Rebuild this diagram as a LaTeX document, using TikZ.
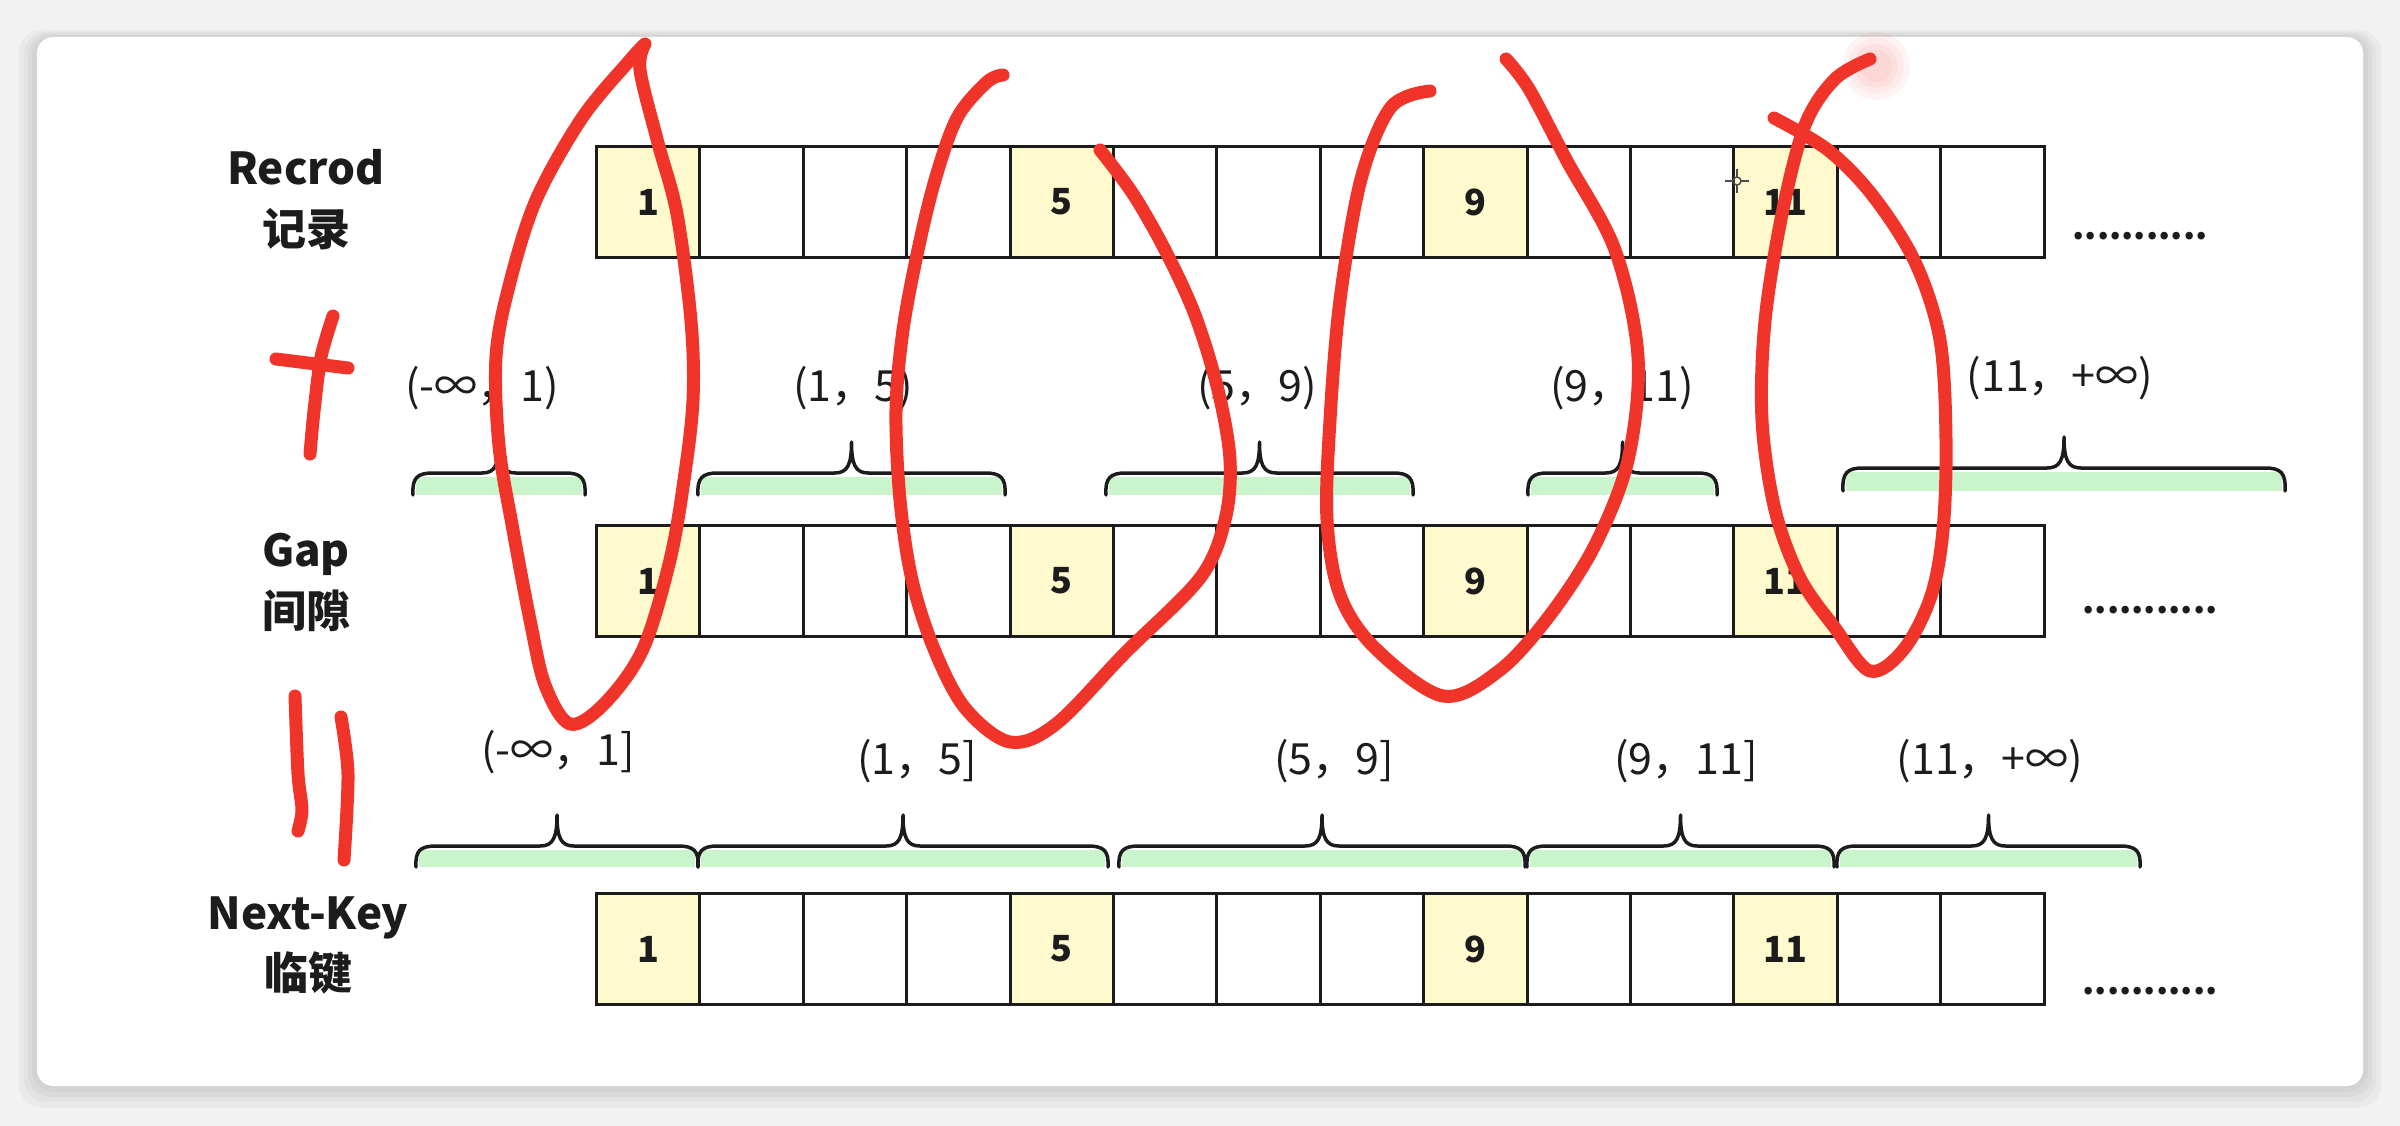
\documentclass[tikz,border=0pt]{standalone}
\usepackage{fontspec}
\setmainfont{Noto Sans CJK SC}
\definecolor{bgray}{RGB}{242,242,242}
\definecolor{cellY}{RGB}{255,250,205}
\definecolor{braceG}{RGB}{202,245,204}
\definecolor{ink}{RGB}{28,28,28}
\definecolor{penred}{RGB}{240,52,42}
\newcommand\curlybr[5]{% a, b, y ends, y bar, y tip
  \fill[braceG] ({#1+3},{#4+4}) rectangle ({#2-3},{#3});
  \draw[bracestyle] (#1,#3) .. controls ({#1-1},{#4+5}) and ({#1+4},#4) .. ({#1+20},#4)
    -- ({(#1+#2)/2-17},#4) .. controls ({(#1+#2)/2-4},#4) and ({(#1+#2)/2},{#4-8}) .. ({(#1+#2)/2},#5)
    .. controls ({(#1+#2)/2},{#4-8}) and ({(#1+#2)/2+4},#4) .. ({(#1+#2)/2+17},#4)
    -- ({#2-20},#4) .. controls ({#2-4},#4) and ({#2+1},{#4+5}) .. (#2,#3);
}
\begin{document}
\begin{tikzpicture}[x=1pt,y=-1pt,
  cellbox/.style={draw=ink,line width=3pt,minimum width=103.4pt,minimum height=111pt,inner sep=0pt,anchor=north west,font=\fontsize{36}{42}\selectfont\bfseries,text=ink},
  rowlbl/.style={font=\fontsize{44}{52}\selectfont\bfseries,text=ink,inner sep=0pt},
  ivl/.style={font=\fontsize{43}{50}\selectfont,text=ink,inner sep=0pt},
  dotsl/.style={font=\fontsize{35}{42}\selectfont\bfseries,text=ink,inner sep=0pt,anchor=base},
  bracestyle/.style={draw=ink,line width=3.5pt,line cap=round,line join=round},
  redpen/.style={draw=penred,line width=13pt,line cap=round,line join=round}
]
\useasboundingbox (0,0) rectangle (2400,1126);
% background and card
\fill[bgray] (0,0) rectangle (2400,1126);
\foreach \s in {18,13,9,5} {
  \fill[black,opacity=0.03,rounded corners=22pt] ({37-\s},{37-0.4*\s}) rectangle ({2363+\s},{1086+1.2*\s});
}
\fill[white,rounded corners=16pt] (37,37) rectangle (2363,1086);

% cells
\foreach \r/\y in {1/145,2/524,3/892} {
  \foreach \c/\t/\f in {0/1/cellY,1//white,2//white,3//white,4/5/cellY,5//white,6//white,7//white,8/9/cellY,9//white,10//white,11/11/cellY,12//white,13//white} {
    \node[cellbox,fill=\f] (r\r c\c) at ({595+103.4*\c},\y) {\t};
  }
}
\node[dotsl] (dots1) at (2140,239) {...........};
\node[dotsl] (dots2) at (2150,613) {...........};
\node[dotsl] (dots3) at (2150,994) {...........};

% row labels
\node[rowlbl] (lR1) at (306,167) {Recrod};
\node[rowlbl] (lR2) at (306,229) {记录};
\node[rowlbl] (lG1) at (306,554) {Gap};
\node[rowlbl] (lG2) at (306,611) {间隙};
\node[rowlbl] (lN1) at (308,918) {Next-Key};
\node[rowlbl] (lN2) at (308,973) {临键};

% gap braces
\curlybr{413}{585}{495}{473}{442}
\curlybr{698}{1005}{495}{473}{442}
\curlybr{1106}{1413}{495}{473}{442}
\curlybr{1528}{1717}{495}{473}{442}
\curlybr{1843}{2285}{491}{468}{437}
\node[ivl] (g1) at (482,388) {(-∞，1)};
\node[ivl] (g2) at (853,388) {(1，5)};
\node[ivl] (g3) at (1257,388) {(5，9)};
\node[ivl] (g4) at (1622,388) {(9，11)};
\node[ivl] (g5) at (2060,378) {(11，+∞)};

% next-key braces
\curlybr{416}{698}{867}{846}{815}
\curlybr{698}{1108}{867}{846}{815}
\curlybr{1119}{1525}{867}{846}{815}
\curlybr{1527}{1834}{867}{846}{815}
\curlybr{1837}{2140}{867}{846}{815}
\node[ivl] (n1) at (558,752) {(-∞，1]};
\node[ivl] (n2) at (917,761) {(1，5]};
\node[ivl] (n3) at (1334,761) {(5，9]};
\node[ivl] (n4) at (1686,761) {(9，11]};
\node[ivl] (n5) at (1990,761) {(11，+∞)};

% cursor
\draw[black!70,line width=1.5pt] (1725,181) -- (1733,181) (1741,181) -- (1749,181) (1737,169) -- (1737,177) (1737,185) -- (1737,193);
\draw[black!70,line width=1.5pt] (1737,181) circle (4pt);

% red hand annotations
\foreach \rr in {34,28,22,16} {\fill[penred,opacity=0.05] (1876,66) circle (\rr pt);}
\draw[redpen] plot[smooth,tension=0.55] coordinates {(645,44) (630,60) (582,118) (536,200) (509,286) (496,357) (499,446) (513,530) (530,620) (545,685) (570,724) (605,703) (643,649) (670,560) (684,480) (693,400) (691,321) (677,214) (658,143) (640,70) (645,44)};
\draw[redpen] plot[smooth,tension=0.55] coordinates {(1003,75) (987,82) (957,118) (935,180) (918,250) (903,330) (896,410) (900,500) (912,580) (934,649) (965,708) (1010,742) (1056,724) (1125,653) (1200,578) (1225,520) (1230,460) (1218,390) (1195,315) (1165,250) (1133,194) (1100,150)};
\draw[redpen] plot[smooth,tension=0.55] coordinates {(1430,91) (1391,107) (1361,179) (1340,300) (1330,420) (1327,520) (1340,595) (1375,648) (1443,696) (1500,670) (1550,615) (1595,545) (1628,460) (1638,357) (1615,250) (1567,161) (1529,89) (1506,59)};
\draw[redpen] plot[smooth,tension=0.55] coordinates {(1870,59) (1835,79) (1805,125) (1782,214) (1765,321) (1762,420) (1775,510) (1800,578) (1835,628) (1870,671) (1904,649) (1931,596) (1943,530) (1946,440) (1940,340) (1915,262) (1873,196) (1828,150) (1774,118)};
% "not equal" mark
\draw[redpen] plot[smooth] coordinates {(333,316) (321,357) (314,411) (310,454)};
\draw[redpen] (276,359) -- (348,368);
% "equal" mark
\draw[redpen] plot[smooth] coordinates {(295,696) (298,774) (302,810) (298,831)};
\draw[redpen] plot[smooth] coordinates {(341,717) (348,774) (344,860)};
\end{tikzpicture}
\end{document}
